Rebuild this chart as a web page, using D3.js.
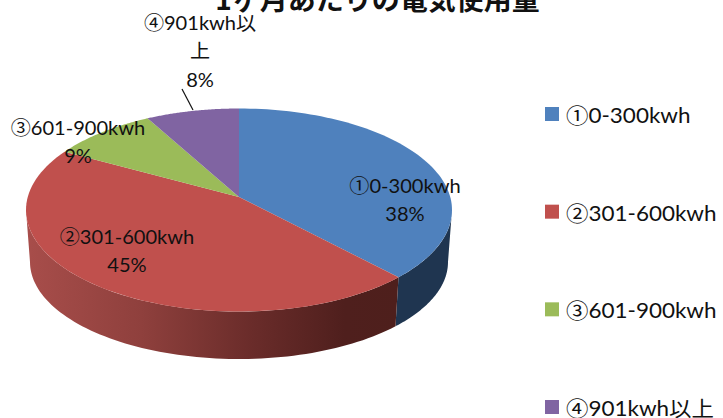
<!DOCTYPE html>
<html lang="ja">
	<head>
		<meta charset="UTF-8" />
		<title>pie</title>
		<style>
			html, body { margin: 0; padding: 0; background: #fff; overflow: hidden; }
			svg { display: block; }
			text { font-family: Lato, "Noto Sans CJK JP", sans-serif; fill: #111; }
			.circled { font-family: "Noto Sans CJK JP"; }
		</style>
	</head>
	<body>
		<svg width="723" height="418" id="mainsvg"></svg>
		<script src="https://cdn.jsdelivr.net/npm/d3@7"></script>
		<script>
			const titleText = "1ヶ月あたりの電気使用量"
			const categories = ["①0-300kwh", "②301-600kwh", "③601-900kwh", "④901kwh以上"]
			const values = [38, 45, 9, 8]
			const colors = ["#4f81bd", "#c0504d", "#9bbb59", "#8064a2"]

			const svg = d3.select("#mainsvg")

			// top face ellipse, bottom edge ellipse, and how far the tilt pushes the centre up
			const topFace = { cx: 239, cy: 210, rx: 213, ry: 101.5 }
			const bottomFace = { cx: 239, cy: 262, rx: 209, ry: 97 }
			const tilt = -0.128

			// circle -> ellipse with perspective, so slice edges meet at the shifted centre
			function project(angle, r, e) {
				const u = Math.sin(angle) * r
				const v = -Math.cos(angle) * r
				const d = 1 + tilt * v
				return [e.cx + (e.rx * (u * Math.sqrt(1 - tilt * tilt))) / d, e.cy + (e.ry * (v + tilt)) / d]
			}

			const pie = d3.pie().sort(null)
			const slices = pie(values)
			const line = d3.line()

			function samples(a0, a1) {
				return d3.range(0, 1.0001, 1 / 80).map((t) => a0 + (a1 - a0) * t)
			}

			// front wall only shows between the two side extremes of the ellipse
			function wallPath(a0, a1, lo, hi) {
				const from = Math.max(a0, lo)
				const to = Math.min(a1, hi)
				if (to <= from) return null
				const as = samples(from, to)
				const top = as.map((a) => project(a, 1, topFace))
				const bottom = as.map((a) => project(a, 1, bottomFace)).reverse()
				return line(top.concat(bottom)) + "Z"
			}

			// angle where the rim is at its left / right extreme (v' = 0)
			const sideAngle = Math.acos(tilt)
			const wallStart = sideAngle
			const wallEnd = 2 * Math.PI - sideAngle

			const defs = svg.append("defs")
			const redWall = defs
				.append("linearGradient")
				.attr("id", "redWall")
				.attr("gradientUnits", "userSpaceOnUse")
				.attr("x1", 30)
				.attr("x2", 400)
				.attr("y1", 0)
				.attr("y2", 0)
			redWall
				.selectAll("stop")
				.data([
					[0, "#a74d4a"],
					[0.3, "#8f403d"],
					[0.6, "#6a2c2a"],
					[0.85, "#4f1f1d"],
					[1, "#4e1f1c"],
				])
				.join("stop")
				.attr("offset", (d) => d[0])
				.attr("stop-color", (d) => d[1])

			const wallFill = ["#1f3550", "url(#redWall)"]

			svg.append("g")
				.selectAll("path")
				.data(slices.slice(0, 2))
				.join("path")
				.attr("d", (d) => wallPath(d.startAngle, d.endAngle, wallStart, wallEnd))
				.attr("fill", (d, i) => wallFill[i])

			const apex = project(0, 0, topFace)
			svg.append("g")
				.selectAll("path")
				.data(slices)
				.join("path")
				.attr("d", (d) => line([apex].concat(samples(d.startAngle, d.endAngle).map((a) => project(a, 1, topFace)))) + "Z")
				.attr("fill", (d, i) => colors[i])

			// leader line for the 4th label
			svg.append("line")
				.attr("x1", 182)
				.attr("y1", 89)
				.attr("x2", 193)
				.attr("y2", 110)
				.attr("stroke", "#111")
				.attr("stroke-width", 1.2)

			svg.append("text")
				.attr("x", 377.5)
				.attr("y", 10)
				.attr("text-anchor", "middle")
				.style("font-family", '"Noto Sans CJK JP"')
				.style("font-weight", 700)
				.style("font-size", "28px")
				.text(titleText)

			// circled number gets the CJK font, the reference's is a full em wide
			function addRuns(sel, str, x, dy) {
				const first = str.match(/^[①-④]/)
				if (first) {
					sel.append("tspan").attr("class", "circled").attr("x", x).attr("dy", dy).text(first[0])
					sel.append("tspan").text(str.slice(1))
				} else {
					sel.append("tspan").attr("x", x).attr("dy", dy).text(str)
				}
			}

			// data labels
			const labelSpots = [
				{ x: 405, y: 193, wrap: false },
				{ x: 127, y: 244, wrap: false },
				{ x: 78, y: 135, wrap: false },
				{ x: 200, y: 30, wrap: true },
			]
			svg.append("g")
				.selectAll("text")
				.data(categories)
				.join("text")
				.attr("text-anchor", "middle")
				.style("font-size", "19.5px")
				.attr("transform", (d, i) => `translate(${labelSpots[i].x},${labelSpots[i].y}) scale(1.03,1)`)
				.each(function (d, i) {
					const rows = labelSpots[i].wrap ? [d.slice(0, -1), d.slice(-1)] : [d]
					const sel = d3.select(this)
					rows.concat(values[i] + "%").forEach((row, j) => addRuns(sel, row, 0, j ? 28.5 : 0))
				})

			// legend
			const legendY = d3.scalePoint().domain(categories).range([114, 407])
			const legend = svg
				.append("g")
				.selectAll("g")
				.data(categories)
				.join("g")
				.attr("transform", (d) => `translate(545,${legendY(d)})`)
			legend
				.append("rect")
				.attr("y", -7)
				.attr("width", 14)
				.attr("height", 14)
				.attr("fill", (d, i) => colors[i])
			legend
				.append("text")
				.attr("transform", "translate(21,9) scale(1.07,1)")
				.style("font-size", "21px")
				.each(function (d) {
					addRuns(d3.select(this), d, 0, 0)
				})
		</script>
	</body>
</html>
